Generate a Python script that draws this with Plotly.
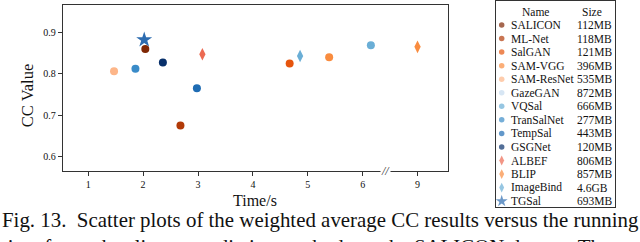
import plotly.graph_objects as go

# ---- data ----
names = ["SALICON", "ML-Net", "SalGAN", "SAM-VGG", "SAM-ResNet", "GazeGAN", "VQSal",
         "TranSalNet", "TempSal", "GSGNet", "ALBEF", "BLIP", "ImageBind", "TGSal"]
model_sizes = ["112MB", "118MB", "121MB", "396MB", "535MB", "872MB", "666MB",
               "277MB", "443MB", "120MB", "806MB", "857MB", "4.6GB", "693MB"]
times = [2.04, 2.68, 4.67, 5.39, 1.47, None, 6.15, 1.86, 2.98, 2.36, 3.08, 9.0, 4.86, 2.02]
cc_values = [0.860, 0.675, 0.825, 0.840, 0.806, None, 0.869, 0.812, 0.765, 0.827,
             0.847, 0.865, 0.843, 0.882]
x_tick_labels = [1, 2, 3, 4, 5, 6, 9]
y_tick_vals = [0.6, 0.7, 0.8, 0.9]

# ---- style ----
colors = ["#7f2704", "#b23a08", "#e6550d", "#f98c3f", "#fdb689", "#c6dbef", "#6aaed6",
          "#3a8bc8", "#1f6cb3", "#08306b", "#ec6a52", "#f98c3f", "#6aaed6", "#2d6cb0"]
symbols = ["circle"] * 10 + ["diamond-tall"] * 3 + ["star"]
msizes = [8] * 10 + [9] * 3 + [12]
leg_sizes = [5.5] * 10 + [7] * 3 + [9]
FONT = "Liberation Serif, Times New Roman, serif"
W, H = 640, 242
AX = "#333333"
TXT = "#111111"
LEG_FS = 11.5


def to_axis(t):
    # broken x axis: values above the break are shifted left
    if t is None:
        return None
    return t if t <= 6.5 else t - 2


fig = go.Figure()
for i, n in enumerate(names):
    fig.add_trace(go.Scatter(
        x=[to_axis(times[i])], y=[cc_values[i]], mode="markers", name=n,
        marker=dict(color=colors[i], symbol=symbols[i], size=msizes[i], line=dict(width=0)),
        showlegend=False, xaxis="x", yaxis="y"))

# manual legend table on its own axes
rows = [-i for i in range(len(names))]
fig.add_trace(go.Scatter(
    x=[5.7] * len(names), y=rows, mode="markers", showlegend=False,
    marker=dict(color=colors, symbol=symbols, size=leg_sizes, line=dict(width=0)),
    xaxis="x2", yaxis="y2", cliponaxis=False))

px_l, px_r, px_t, px_b = 63, 447.7, 5, 171
fig.update_layout(
    width=W, height=H, margin=dict(l=0, r=0, t=0, b=0, autoexpand=False),
    paper_bgcolor="white", plot_bgcolor="white",
    font=dict(family=FONT, color=TXT),
    xaxis=dict(domain=[px_l / W, px_r / W], range=[0.54, 7.55],
               tickvals=[to_axis(v) for v in x_tick_labels], ticktext=[str(v) for v in x_tick_labels],
               ticks="outside", ticklen=4, tickcolor=AX, showgrid=False, zeroline=False,
               showline=True, linecolor=AX, linewidth=1.3, mirror=True,
               tickfont=dict(size=10, family=FONT, color=TXT), anchor="y"),
    yaxis=dict(domain=[1 - px_b / H, 1 - px_t / H], range=[0.5655, 0.966],
               tickvals=y_tick_vals, ticktext=[f"{v:.1f}" for v in y_tick_vals],
               ticks="outside", ticklen=4, tickcolor=AX, showgrid=False, zeroline=False,
               showline=True, linecolor=AX, linewidth=1.3, mirror=True,
               tickfont=dict(size=10, family=FONT, color=TXT), anchor="x"),
    xaxis2=dict(domain=[496 / W, 615 / W], range=[0, 119], showgrid=False, zeroline=False,
                showticklabels=False, ticks="", showline=True, mirror=True, linecolor=AX,
                linewidth=1.2, anchor="y2"),
    yaxis2=dict(domain=[1 - 207 / H, 1 - 1 / H], range=[-13.43, 1.771], showgrid=False,
                zeroline=False, showticklabels=False, ticks="", showline=True, mirror=True,
                linecolor=AX, linewidth=1.2, anchor="x2"),
)

annotations = [
    dict(text="CC Value", x=27.7 / W, y=1 - 95.5 / H, xref="paper", yref="paper",
         textangle=-90, showarrow=False, font=dict(size=16.5, family=FONT), xanchor="center",
         yanchor="middle"),
    dict(text="Time/s", x=255.3 / W, y=1 - 200.5 / H, xref="paper", yref="paper",
         showarrow=False, font=dict(size=16, family=FONT), xanchor="center", yanchor="middle"),
    dict(text="<i>//</i>", x=6.42, y=1 - px_b / H, xref="x", yref="paper", showarrow=False,
         font=dict(size=12, family=FONT, color=AX), bgcolor="white", borderpad=0,
         xanchor="center", yanchor="middle"),
    dict(text="Fig. 13.  Scatter plots of the weighted average CC results versus the running",
         x=0, y=1 - 220 / H, xref="paper", yref="paper", showarrow=False,
         font=dict(size=20.9, family=FONT), xanchor="left", yanchor="middle"),
    dict(text="time for each saliency prediction methods on the SALICON dataset. The model",
         x=0, y=1 - 247 / H, xref="paper", yref="paper", showarrow=False,
         font=dict(size=20.9, family=FONT), xanchor="left", yanchor="middle"),
    dict(text="Name", x=39, y=0.96, xref="x2", yref="y2", showarrow=False,
         font=dict(size=LEG_FS, family=FONT), xanchor="center", yanchor="middle"),
    dict(text="Size", x=96, y=0.96, xref="x2", yref="y2", showarrow=False,
         font=dict(size=LEG_FS, family=FONT), xanchor="center", yanchor="middle"),
]
for i, (n, s) in enumerate(zip(names, model_sizes)):
    annotations.append(dict(text=n, x=13, y=rows[i], xref="x2", yref="y2", showarrow=False,
                            font=dict(size=LEG_FS, family=FONT), xanchor="left", yanchor="middle"))
    annotations.append(dict(text=s, x=79, y=rows[i], xref="x2", yref="y2", showarrow=False,
                            font=dict(size=LEG_FS, family=FONT), xanchor="left", yanchor="middle"))
fig.update_layout(annotations=annotations)

fig.write_html("out.html", config={"displayModeBar": False},
               post_script="document.body.style.margin='0px';document.body.style.padding='0px';")
